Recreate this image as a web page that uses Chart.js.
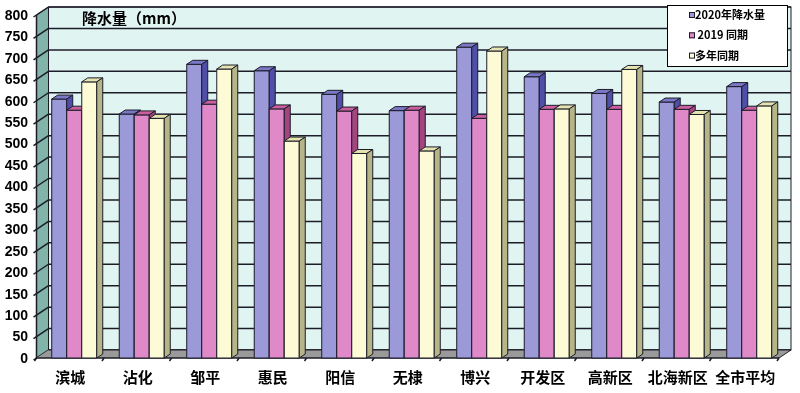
<!DOCTYPE html>
<html>
<head>
<meta charset="utf-8">
<script src="https://cdn.jsdelivr.net/npm/chart.js@4"></script>
<style>
  html, body { margin: 0; padding: 0; background: #fff; }
  #c { display: block; }
</style>
</head>
<body>
<canvas id="c" width="800" height="393"></canvas>
<script>
  // data
  const districts = ["滨城", "沾化", "邹平", "惠民", "阳信", "无棣", "博兴", "开发区", "高新区", "北海新区", "全市平均"];
  const rain2020 = [604, 569, 685, 670, 615, 577, 725, 656, 617, 597, 633];
  const same2019 = [578, 567, 592, 581, 576, 578, 559, 580, 580, 580, 578];
  const sameAvg = [644, 559, 674, 506, 477, 483, 716, 581, 673, 568, 588];
  const yTicks = [0, 50, 100, 150, 200, 250, 300, 350, 400, 450, 500, 550, 600, 650, 700, 750, 800];
  const seriesNames = ["2020年降水量", " 2019 同期", "多年同期"];

  // front / side / top face colours per series
  const faces = [
    { front: "#9c99d9", side: "#4f4fa8", top: "#7a78c6" },
    { front: "#e089c9", side: "#a5457f", top: "#c95f9f" },
    { front: "#fdfbd6", side: "#b5b588", top: "#e4e4b0" },
  ];

  const WALL_DX = 12, WALL_DY = -8;   // depth of the chart box
  const BAR_DX = 6, BAR_DY = -4;      // depth of each bar
  const SHIFT = 4;                    // bars sit a little right of the category centre
  const LINE = "#1c1c28";

  const boxPlugin = {
    id: "box3d",
    beforeDatasetsDraw(chart) {
      const ctx = chart.ctx;
      const x = chart.scales.x, y = chart.scales.y;
      const fl = chart.chartArea.left - SHIFT, fr = chart.chartArea.right - SHIFT;
      const ft = y.getPixelForValue(800), fb = y.getPixelForValue(0);
      const bl = fl + WALL_DX, br = fr + WALL_DX, bt = ft + WALL_DY, bb = fb + WALL_DY;
      ctx.save();
      // back wall
      ctx.fillStyle = "#e0f4f2";
      ctx.fillRect(bl, bt, br - bl, bb - bt);
      // grid on back wall
      ctx.strokeStyle = LINE;
      ctx.lineWidth = 1.5;
      yTicks.forEach((v) => {
        const py = y.getPixelForValue(v) + WALL_DY;
        ctx.beginPath();
        ctx.moveTo(bl, py);
        ctx.lineTo(br, py);
        ctx.stroke();
      });
      ctx.lineWidth = 1;
      ctx.strokeRect(bl, bt, br - bl, bb - bt);
      // left wall
      ctx.fillStyle = "#82b4aa";
      ctx.beginPath();
      ctx.moveTo(fl, ft);
      ctx.lineTo(bl, bt);
      ctx.lineTo(bl, bb);
      ctx.lineTo(fl, fb);
      ctx.closePath();
      ctx.fill();
      ctx.stroke();
      ctx.lineWidth = 1.5;
      yTicks.forEach((v) => {
        const py = y.getPixelForValue(v);
        ctx.beginPath();
        ctx.moveTo(fl - 3, py + 2);
        ctx.lineTo(bl, py + WALL_DY);
        ctx.stroke();
      });
      // floor
      ctx.fillStyle = "#9a9a9a";
      ctx.beginPath();
      ctx.moveTo(fl, fb);
      ctx.lineTo(bl, bb);
      ctx.lineTo(br, bb);
      ctx.lineTo(fr, fb);
      ctx.closePath();
      ctx.fill();
      ctx.lineWidth = 1;
      ctx.beginPath();
      ctx.moveTo(bl, bb);
      ctx.lineTo(br, bb);
      ctx.lineTo(fr, fb);
      ctx.stroke();
      ctx.lineWidth = 1.5;
      ctx.beginPath();
      ctx.moveTo(fl, ft);
      ctx.lineTo(fl, fb);
      ctx.lineTo(fr, fb);
      ctx.stroke();
      // category ticks on the floor edge
      const step = (fr - fl) / districts.length;
      for (let i = 0; i <= districts.length; i++) {
        const px = fl + i * step;
        ctx.beginPath();
        ctx.moveTo(px, fb);
        ctx.lineTo(px - 2, fb + 3);
        ctx.stroke();
      }
      // tick labels
      ctx.fillStyle = "#000";
      ctx.font = "bold 14px 'Liberation Sans', Arial, sans-serif";
      ctx.textAlign = "right";
      ctx.textBaseline = "middle";
      yTicks.forEach((v) => {
        ctx.fillText(String(v), 28, y.getPixelForValue(v) + 1);
      });
      ctx.font = "bold 15px 'Noto Sans CJK SC', sans-serif";
      ctx.textAlign = "center";
      districts.forEach((d, i) => {
        ctx.fillText(d, x.getPixelForValue(i) - SHIFT, 377);
      });
      // title on the wall
      ctx.textAlign = "left";
      ctx.font = "bold 15px 'Noto Sans CJK SC', sans-serif";
      ctx.fillText("降水量（mm）", 82, 18);
      ctx.restore();
    },
    afterDatasetsDraw(chart) {
      // redraw the bars left to right so each side face hides behind the next bar
      const ctx = chart.ctx;
      ctx.save();
      ctx.strokeStyle = LINE;
      ctx.lineWidth = 1;
      ctx.lineJoin = "round";
      const n = chart.data.labels.length;
      for (let j = 0; j < n; j++) {
        chart.data.datasets.forEach((ds, i) => {
          const f = faces[i];
          const bar = chart.getDatasetMeta(i).data[j];
          const p = bar.getProps(["x", "y", "width", "base"], true);
          const l = p.x - p.width / 2, r = p.x + p.width / 2;
          // front face
          ctx.fillStyle = f.front;
          ctx.fillRect(l, p.y, r - l, p.base - p.y);
          ctx.strokeRect(l, p.y, r - l, p.base - p.y);
          // top face
          ctx.fillStyle = f.top;
          ctx.beginPath();
          ctx.moveTo(l, p.y);
          ctx.lineTo(l + BAR_DX, p.y + BAR_DY);
          ctx.lineTo(r + BAR_DX, p.y + BAR_DY);
          ctx.lineTo(r, p.y);
          ctx.closePath();
          ctx.fill();
          ctx.stroke();
          // side face
          ctx.fillStyle = f.side;
          ctx.beginPath();
          ctx.moveTo(r, p.y);
          ctx.lineTo(r + BAR_DX, p.y + BAR_DY);
          ctx.lineTo(r + BAR_DX, p.base + BAR_DY);
          ctx.lineTo(r, p.base);
          ctx.closePath();
          ctx.fill();
          ctx.stroke();
        });
      }
      ctx.restore();
    },
    afterDraw(chart) {
      const ctx = chart.ctx;
      ctx.save();
      ctx.fillStyle = "#fff";
      ctx.strokeStyle = "#000";
      ctx.lineWidth = 1;
      ctx.fillRect(667, 5, 121, 62);
      ctx.strokeRect(667.5, 5.5, 120, 61);
      ctx.font = "bold 11px 'Noto Sans CJK SC', sans-serif";
      ctx.textAlign = "left";
      ctx.textBaseline = "middle";
      seriesNames.forEach((name, i) => {
        const cy = 15 + i * 20.3;
        ctx.fillStyle = faces[i].front;
        ctx.fillRect(689, cy - 3, 6, 6);
        ctx.strokeStyle = LINE;
        ctx.strokeRect(689.5, cy - 2.5, 5, 5);
        ctx.fillStyle = "#000";
        ctx.fillText(name, 695, cy);
      });
      ctx.restore();
    },
  };

  const datasets = [rain2020, same2019, sameAvg].map((vals, i) => ({
    label: seriesNames[i],
    data: vals,
    backgroundColor: faces[i].front,
    borderWidth: 0,
    categoryPercentage: 0.667,
    barPercentage: 1.0,
  }));

  new Chart(document.getElementById("c"), {
    type: "bar",
    data: { labels: districts, datasets: datasets },
    options: {
      responsive: false,
      animation: false,
      devicePixelRatio: 1,
      layout: { padding: { left: 40.5, right: 17, top: 15, bottom: 35 } },
      scales: {
        x: { display: false },
        y: { display: false, min: 0, max: 800 },
      },
      plugins: {
        legend: { display: false },
        tooltip: { enabled: false },
      },
    },
    plugins: [boxPlugin],
  });
</script>
</body>
</html>
